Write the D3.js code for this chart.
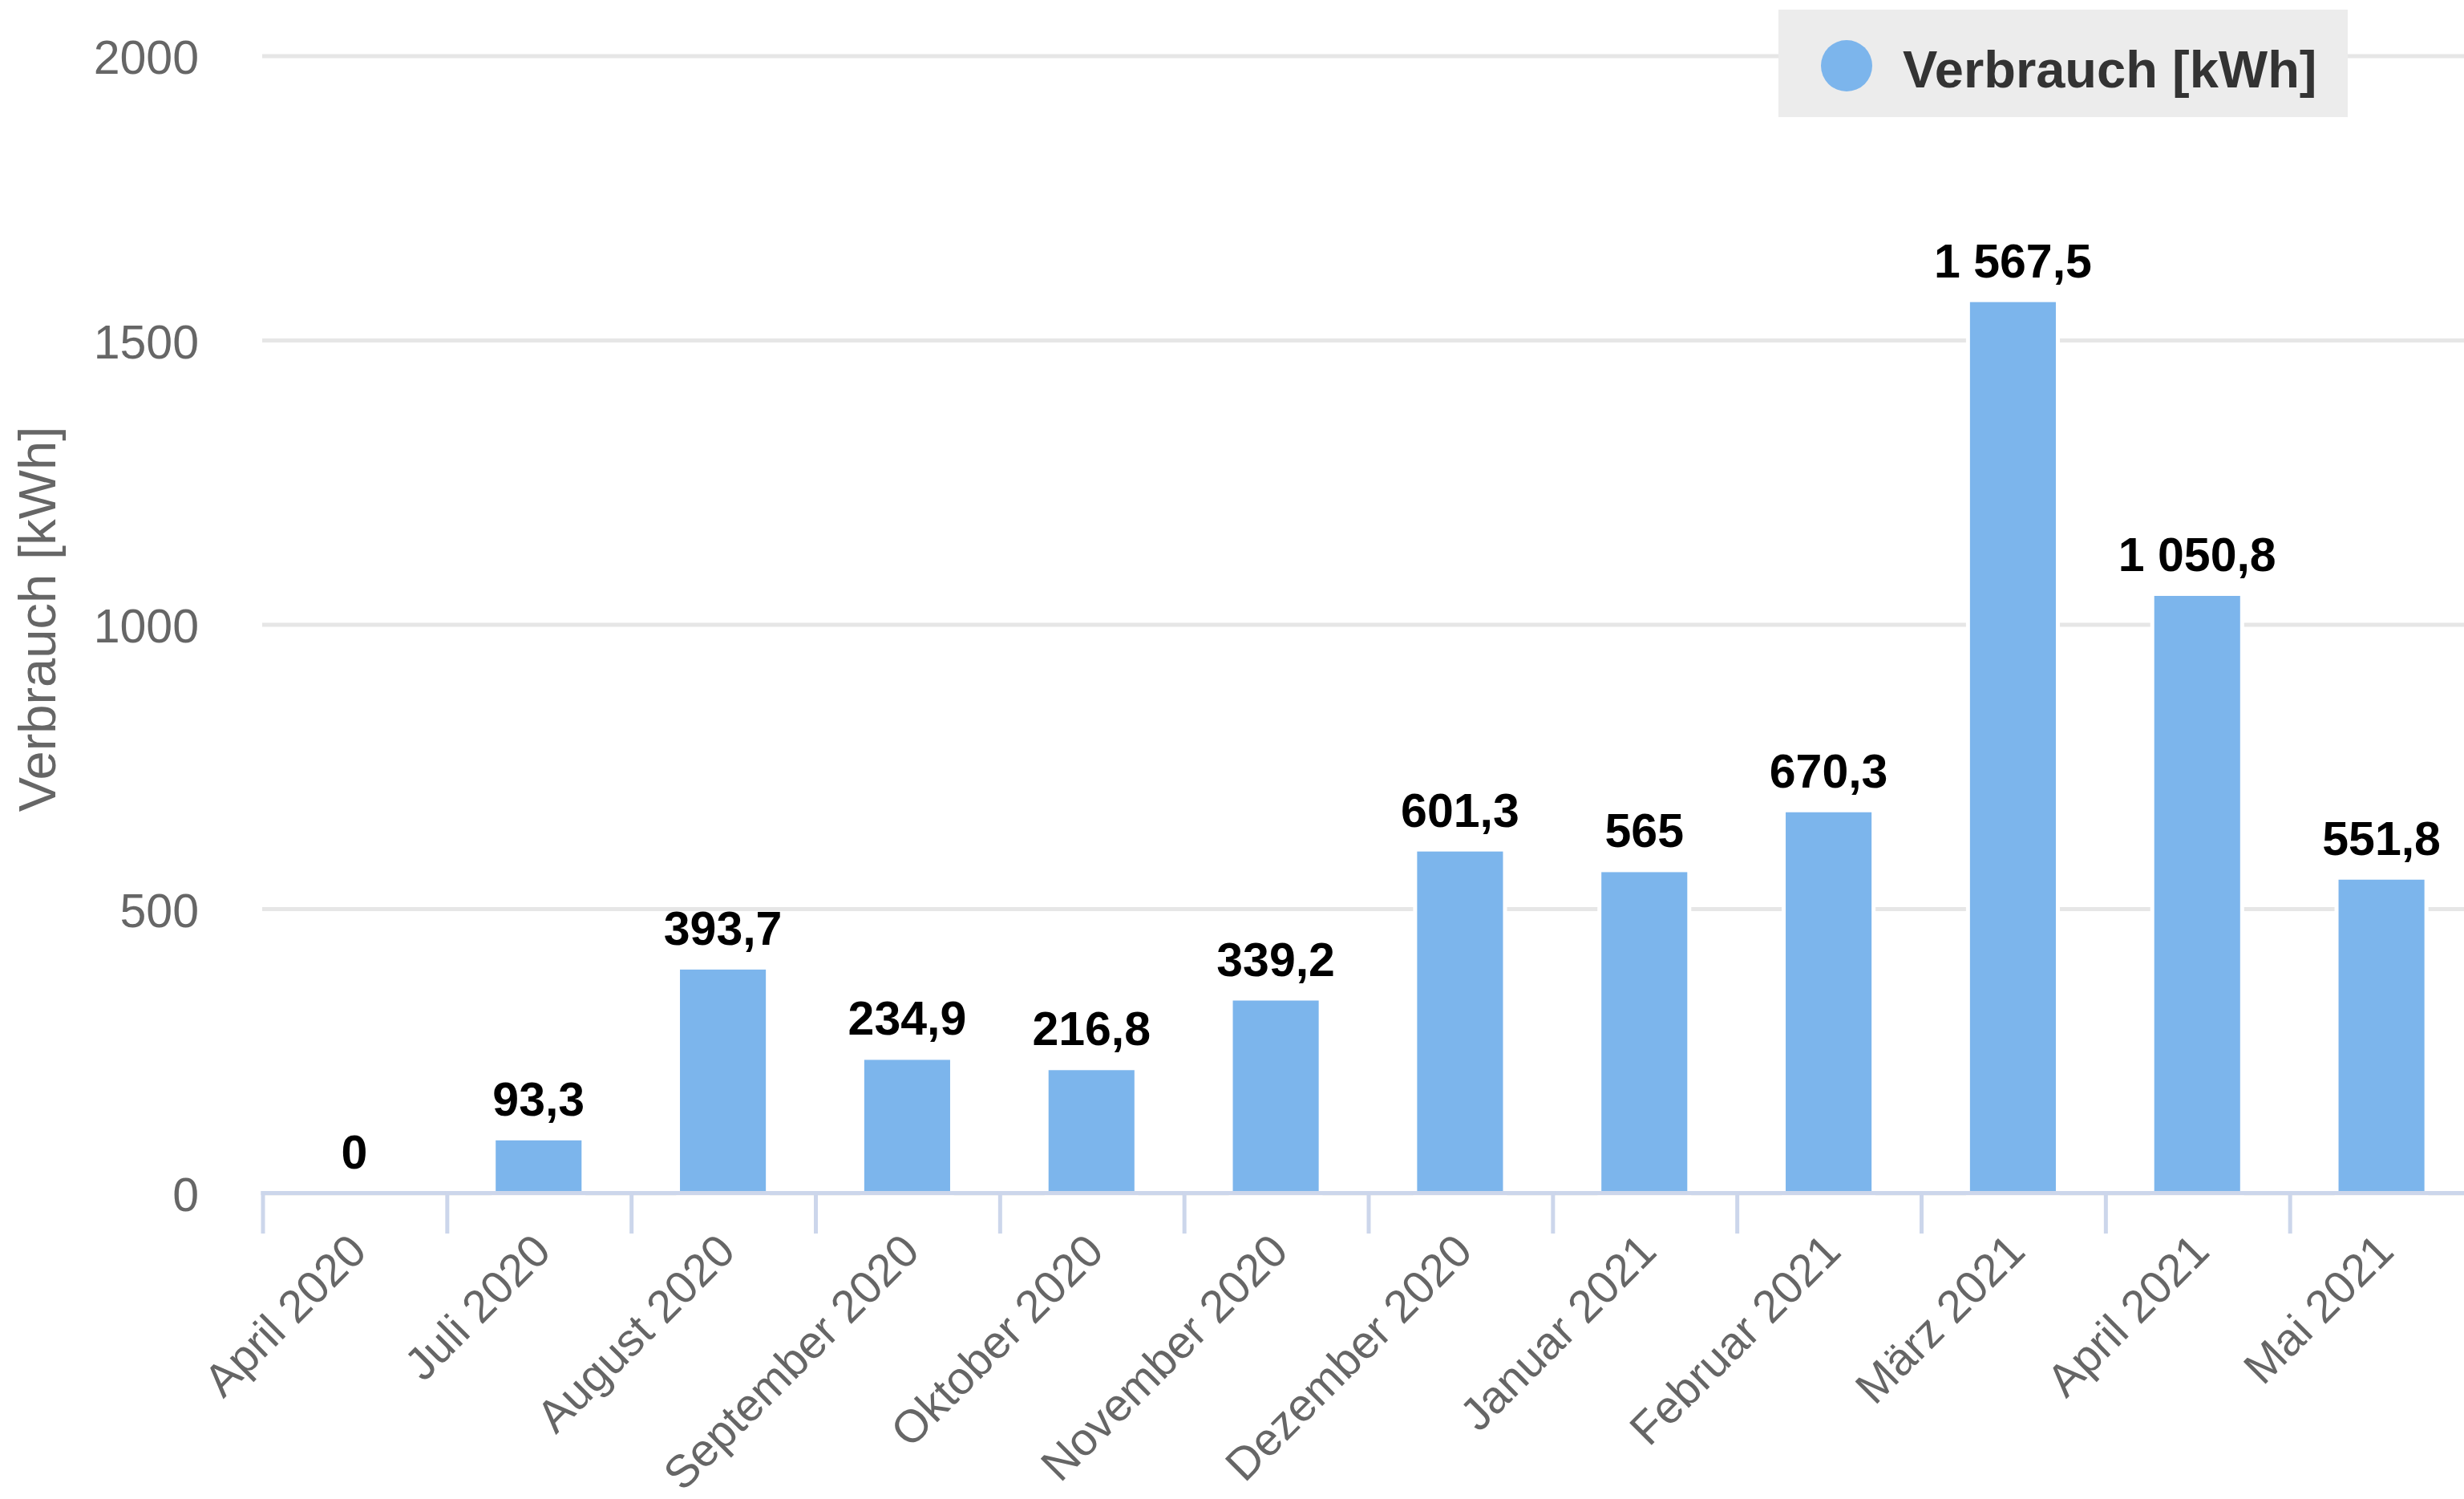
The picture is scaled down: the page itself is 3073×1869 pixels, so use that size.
<!DOCTYPE html>
<html>
<head>
<meta charset="utf-8">
<script src="https://cdn.jsdelivr.net/npm/d3@7"></script>
<style>
  html, body { margin: 0; padding: 0; background: #ffffff; }
  svg { display: block; }
  text { font-family: "Liberation Sans", Arial, Helvetica, sans-serif; }
</style>
</head>
<body>
<svg id="chart"></svg>
<script>
// Monthly consumption in kWh
const categories = [
  "April 2020", "Juli 2020", "August 2020", "September 2020", "Oktober 2020",
  "November 2020", "Dezember 2020", "Januar 2021", "Februar 2021", "März 2021",
  "April 2021", "Mai 2021"
];
const values = [0, 93.3, 393.7, 234.9, 216.8, 339.2, 601.3, 565, 670.3, 1567.5, 1050.8, 551.8];
const yTicks = [0, 500, 1000, 1500, 2000];
const seriesName = "Verbrauch [kWh]";
const yAxisTitle = "Verbrauch [kWh]";

const W = 3073, H = 1869;
const plot = { left: 327, right: 3085, top: 70, bottom: 1488 };
const barColor = "#7cb5ec";

const svg = d3.select("#chart").attr("width", W).attr("height", H);
svg.append("rect").attr("width", W).attr("height", H).attr("fill", "#ffffff");

const x = d3.scaleBand().domain(categories).range([plot.left, plot.right]).padding(0);
const y = d3.scaleLinear().domain([0, 2000]).range([plot.bottom, plot.top]);

const de = d3.formatLocale({ decimal: ",", thousands: " ", grouping: [3], currency: ["", " €"] });
const fmtLabel = de.format(",.1~f");

// Horizontal grid lines
svg.append("g").selectAll("line").data(yTicks).join("line")
  .attr("x1", plot.left).attr("x2", plot.right)
  .attr("y1", d => y(d)).attr("y2", d => y(d))
  .attr("stroke", "#e6e6e6").attr("stroke-width", 5);

// Y tick labels
svg.append("g").selectAll("text").data(yTicks).join("text")
  .attr("x", 248).attr("y", d => y(d) + 22)
  .attr("text-anchor", "end")
  .attr("font-size", 59).attr("fill", "#666666")
  .text(d => d3.format("d")(d));

// Y axis title
svg.append("text")
  .attr("transform", `translate(69, 772) rotate(-90)`)
  .attr("text-anchor", "middle")
  .attr("font-size", 65).attr("fill", "#666666")
  .text(yAxisTitle);

// Bars with a thin white outline
const barW = x.bandwidth() * 0.466;
const pad = 2.5;
svg.append("g").selectAll("rect").data(values).join("rect")
  .attr("x", (d, i) => x(categories[i]) + x.bandwidth() / 2 - barW / 2 - pad)
  .attr("width", barW + 2 * pad)
  .attr("y", d => y(d) - pad)
  .attr("height", d => Math.max(0, plot.bottom - y(d) + pad))
  .attr("fill", barColor)
  .attr("stroke", "#ffffff").attr("stroke-width", 5)
  .attr("display", d => d > 0 ? null : "none");

// X axis line and tick marks
svg.append("line")
  .attr("x1", plot.left - 1.5).attr("x2", plot.right)
  .attr("y1", plot.bottom - 0.5).attr("y2", plot.bottom - 0.5)
  .attr("stroke", "#ccd6eb").attr("stroke-width", 5);

svg.append("g").selectAll("line").data(categories).join("line")
  .attr("x1", d => x(d) + 1).attr("x2", d => x(d) + 1)
  .attr("y1", plot.bottom - 3).attr("y2", plot.bottom + 50)
  .attr("stroke", "#ccd6eb").attr("stroke-width", 5);

// Rotated category labels
svg.append("g").selectAll("text").data(categories).join("text")
  .attr("transform", d => `translate(${x(d) + x.bandwidth() / 2 + 18}, 1563) rotate(-45)`)
  .attr("text-anchor", "end")
  .attr("font-size", 57).attr("fill", "#666666")
  .text(d => d);

// Value labels above bars
svg.append("g").selectAll("text").data(values).join("text")
  .attr("x", (d, i) => x(categories[i]) + x.bandwidth() / 2)
  .attr("y", d => y(d) - 31)
  .attr("text-anchor", "middle")
  .attr("font-size", 59).attr("font-weight", "bold").attr("fill", "#000000")
  .text(d => fmtLabel(d));

// Legend
const legend = svg.append("g");
legend.append("rect")
  .attr("x", 2218).attr("y", 12).attr("width", 710).attr("height", 134)
  .attr("fill", "#ececec");
legend.append("circle")
  .attr("cx", 2303).attr("cy", 82).attr("r", 32)
  .attr("fill", barColor);
legend.append("text")
  .attr("x", 2373).attr("y", 109)
  .attr("font-size", 65).attr("font-weight", "bold").attr("fill", "#333333")
  .text(seriesName);
</script>
</body>
</html>
